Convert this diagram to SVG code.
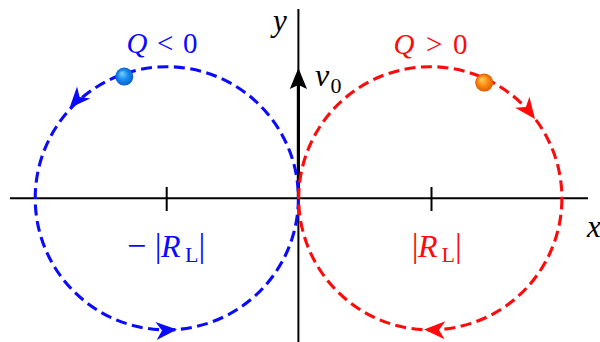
<svg xmlns="http://www.w3.org/2000/svg" width="600" height="342" viewBox="0 0 600 342">
<style>
.ax{stroke:#000;stroke-width:2;fill:none}
.orb{fill:none;stroke-width:3.1;stroke-dasharray:11 5.5}
.blue{stroke:#0a0aff}
.red{stroke:#ff0a0a}
</style>
<defs>
<path id="ah" d="M0,0 L-21,-9 L-15,0 L-21,9 Z"/>
<radialGradient id="gb" cx="0.5" cy="0.5" r="0.5" fx="0.35" fy="0.3">
<stop offset="0" stop-color="#7fd4ff"/>
<stop offset="0.55" stop-color="#1a8cf0"/>
<stop offset="1" stop-color="#0a5fd0"/>
</radialGradient>
<radialGradient id="go" cx="0.5" cy="0.5" r="0.5" fx="0.35" fy="0.3">
<stop offset="0" stop-color="#ffd36a"/>
<stop offset="0.55" stop-color="#ff8c10"/>
<stop offset="1" stop-color="#e05a00"/>
</radialGradient>
</defs>
<rect width="600" height="342" fill="#fff"/>
<g id="axes">
<line class="ax" x1="10" y1="198.3" x2="588" y2="198.3"/>
<line class="ax" x1="298.4" y1="9" x2="298.4" y2="342"/>
<line class="ax" x1="166.7" y1="187" x2="166.7" y2="211"/>
<line class="ax" x1="431.5" y1="187" x2="431.5" y2="211"/>
<line x1="298.4" y1="198" x2="298.4" y2="84" stroke="#000" stroke-width="3.2"/>
<path d="M298.4,68 L307,89 L298.4,85 L289.8,89 Z" fill="#000"/>
<text font-family="Liberation Serif" font-style="italic" x="273" y="31" font-size="31">y</text>
<text font-family="Liberation Serif" font-style="italic" x="587" y="237" font-size="31">x</text>
<text font-family="Liberation Serif" x="315" y="86" font-size="32"><tspan font-style="italic">v</tspan><tspan x="330.5" y="93" font-size="22">0</tspan></text>
</g>
<g id="orbit-neg">
<circle class="orb blue" cx="166.8" cy="198.3" r="131.6"/>
<use href="#ah" fill="#0a0aff" transform="translate(69.5,108) rotate(132.4)"/>
<use href="#ah" fill="#0a0aff" transform="translate(177,329.5) rotate(-4)"/>
<circle cx="124.3" cy="76.6" r="9" fill="url(#gb)"/>
<text font-family="Liberation Serif" fill="#0a0aff" font-size="29" y="52.5"><tspan font-style="italic" x="126.5">Q</tspan><tspan x="157">&lt;</tspan><tspan x="183">0</tspan></text>
<text font-family="Liberation Serif" fill="#0a0aff" font-size="32" y="257"><tspan x="127" font-size="34" y="257">−</tspan><tspan x="154.8" font-size="34" y="257">|</tspan><tspan font-style="italic" x="161">R</tspan><tspan x="185" y="262" font-size="22">L</tspan><tspan x="198.5" y="257" font-size="34">|</tspan></text>
</g>
<g id="orbit-pos">
<circle class="orb red" cx="430.3" cy="198.3" r="131.6"/>
<use href="#ah" fill="#ff0a0a" transform="translate(535,119) rotate(52.7)"/>
<use href="#ah" fill="#ff0a0a" transform="translate(424,329.5) rotate(182.3)"/>
<circle cx="484.2" cy="82.6" r="9" fill="url(#go)"/>
<text font-family="Liberation Serif" fill="#ff0a0a" font-size="29" y="53.5"><tspan font-style="italic" x="393.5">Q</tspan><tspan x="426">&gt;</tspan><tspan x="453">0</tspan></text>
<text font-family="Liberation Serif" fill="#ff0a0a" font-size="32" y="257"><tspan x="411.8" font-size="34">|</tspan><tspan font-style="italic" x="418">R</tspan><tspan x="441.5" y="262" font-size="22">L</tspan><tspan x="455" y="257" font-size="34">|</tspan></text>
</g>
</svg>
